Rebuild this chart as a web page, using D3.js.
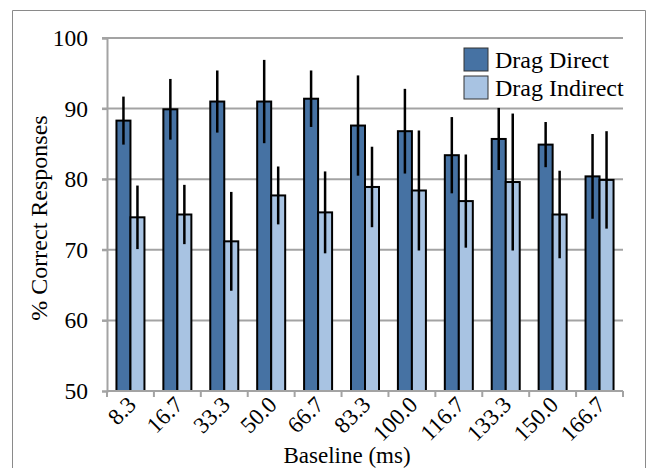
<!DOCTYPE html>
<html>
<head>
<meta charset="utf-8">
<script src="https://cdn.jsdelivr.net/npm/d3@7"></script>
<style>
html,body{margin:0;padding:0;background:#fff;}
svg{display:block;font-family:"Liberation Serif","Times New Roman",serif;}
</style>
</head>
<body>
<svg id="chart" width="648" height="468"></svg>
<script>
const categories = ["8.3","16.7","33.3","50.0","66.7","83.3","100.0","116.7","133.3","150.0","166.7"];
const seriesNames = ["Drag Direct","Drag Indirect"];
const direct = [88.3, 89.9, 91.0, 91.0, 91.4, 87.6, 86.8, 83.4, 85.7, 84.9, 80.4];
const directErr = [3.4, 4.3, 4.4, 5.9, 4.0, 7.1, 6.0, 5.4, 4.4, 3.2, 6.0];
const indirect = [74.6, 75.0, 71.2, 77.7, 75.3, 78.9, 78.4, 76.9, 79.6, 75.0, 79.9];
const indirectErr = [4.5, 4.2, 7.0, 4.1, 5.8, 5.7, 8.5, 6.6, 9.7, 6.2, 6.9];
const yTicks = [50, 60, 70, 80, 90, 100];
const colors = ["#4672a3", "#a8c3e2"];

const svg = d3.select("#chart");
const mLeft = 107, mRight = 623, mTop = 38, mBottom = 391;

// outer frame
svg.append("path")
  .attr("d", "M12.5,470 V10.5 H645.5 V470")
  .attr("fill", "none").attr("stroke", "#8a8a8a").attr("stroke-width", 1);

const x = d3.scaleBand().domain(categories).range([mLeft, mRight]).paddingInner(0).paddingOuter(0);
const inner = d3.scaleBand().domain([0, 1]).range([0, 28]);
const groupOffset = (x.bandwidth() - 28) / 2;
const y = d3.scaleLinear().domain([50, 100]).range([mBottom, mTop]);

// gridlines
svg.append("g").selectAll("line").data(yTicks.filter(d => d > 50)).join("line")
  .attr("x1", mLeft - 5).attr("x2", mRight)
  .attr("y1", d => y(d)).attr("y2", d => y(d))
  .attr("stroke", "#a3a3a3").attr("stroke-width", 2);

// y axis
const yAxis = svg.append("g").attr("transform", `translate(${mLeft},0)`)
  .call(d3.axisLeft(y).tickValues(yTicks).tickSize(5).tickPadding(14).tickFormat(d3.format("d")));
yAxis.select(".domain").attr("stroke", "#a3a3a3").attr("stroke-width", 2);
yAxis.selectAll(".tick line").attr("stroke", "#a3a3a3").attr("stroke-width", 2);
yAxis.selectAll("text").attr("font-size", 23.5).attr("fill", "#000")
  .attr("font-family", "Liberation Serif");

// bars
const data = categories.map((c, i) => ({c, vals: [
  {s: 0, v: direct[i], e: directErr[i]},
  {s: 1, v: indirect[i], e: indirectErr[i]}
]}));

const groups = svg.append("g").selectAll("g").data(data).join("g")
  .attr("transform", d => `translate(${x(d.c) + groupOffset},0)`);

groups.selectAll("rect").data(d => d.vals).join("rect")
  .attr("x", d => inner(d.s))
  .attr("width", inner.bandwidth())
  .attr("y", d => y(d.v))
  .attr("height", d => y(50) - y(d.v))
  .attr("fill", d => colors[d.s])
  .attr("stroke", "#000").attr("stroke-width", 2);

groups.selectAll("line.err").data(d => d.vals).join("line")
  .attr("class", "err")
  .attr("x1", d => inner(d.s) + inner.bandwidth() / 2)
  .attr("x2", d => inner(d.s) + inner.bandwidth() / 2)
  .attr("y1", d => y(d.v + d.e))
  .attr("y2", d => y(d.v - d.e))
  .attr("stroke", "#000").attr("stroke-width", 2.5);

// x axis
const xAxisG = svg.append("g").attr("transform", `translate(0,${mBottom})`);
xAxisG.append("line").attr("x1", mLeft).attr("x2", mRight).attr("y1", 0).attr("y2", 0)
  .attr("stroke", "#a3a3a3").attr("stroke-width", 2);
xAxisG.selectAll("line.tk").data(categories.concat(["end"])).join("line")
  .attr("class", "tk")
  .attr("x1", (d, i) => i < categories.length ? x(d) : mRight)
  .attr("x2", (d, i) => i < categories.length ? x(d) : mRight)
  .attr("y1", 0).attr("y2", 6)
  .attr("stroke", "#a3a3a3").attr("stroke-width", 2);
xAxisG.selectAll("text").data(categories).join("text")
  .attr("transform", d => `translate(${x(d) + x.bandwidth() / 2 + 7},${15}) rotate(-45)`)
  .attr("text-anchor", "end")
  .attr("font-size", 23)
  .text(d => d);

// axis titles
svg.append("text")
  .attr("transform", "translate(47,218) rotate(-90)")
  .attr("text-anchor", "middle")
  .attr("font-size", 24)
  .text("% Correct Responses");

svg.append("text")
  .attr("x", 347).attr("y", 463)
  .attr("text-anchor", "middle")
  .attr("font-size", 23)
  .text("Baseline (ms)");

// legend
const legend = svg.append("g").selectAll("g").data(seriesNames).join("g")
  .attr("transform", (d, i) => `translate(464,${48 + i * 28})`);
legend.append("rect").attr("width", 24).attr("height", 23)
  .attr("fill", (d, i) => colors[i]).attr("stroke", "#333").attr("stroke-width", 1);
legend.append("text").attr("x", 31).attr("y", 20).attr("font-size", 24).text(d => d);
</script>
</body>
</html>
